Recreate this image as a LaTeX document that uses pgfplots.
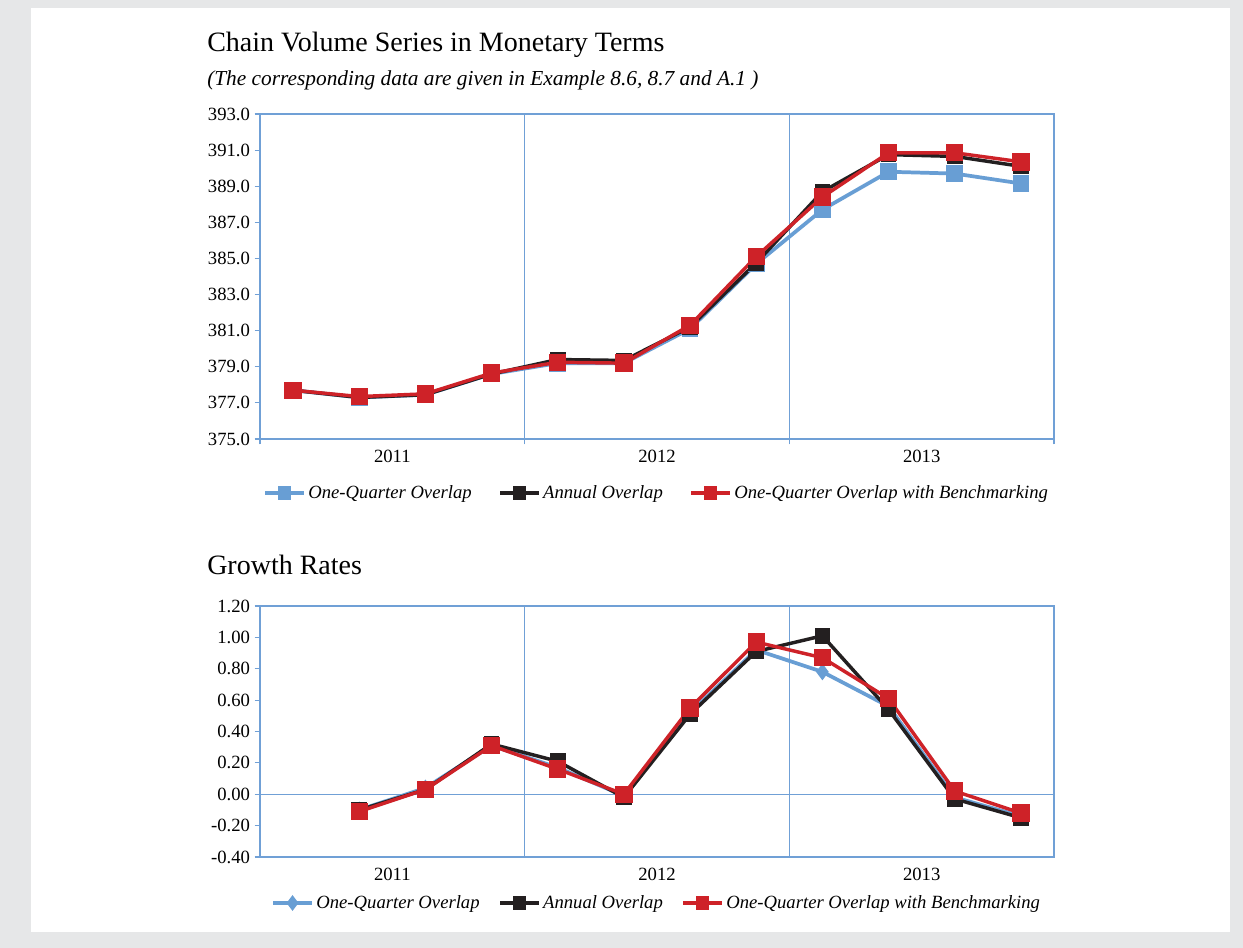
\documentclass[border=0pt]{standalone}
\usepackage{fontspec}
\setmainfont{Liberation Serif}
\usepackage{pgfplots}
\pgfplotsset{compat=1.18}
\definecolor{axblue}{RGB}{112,160,214}
\definecolor{serblue}{RGB}{104,158,212}
\definecolor{serred}{RGB}{206,34,40}
\definecolor{serblack}{RGB}{35,31,32}
\definecolor{bggray}{RGB}{230,231,232}

\pgfplotsset{
  mychart/.style={
    scale only axis,
    width=595.5pt,
    xmin=0, xmax=12,
    axis line style={axblue, line width=1pt},
    xtick={0,4,8,12}, xticklabels={},
    xmajorgrids,
    grid style={axblue, line width=0.8pt},
    extra x ticks={2,6,10},
    extra x tick labels={2011,2012,2013},
    extra x tick style={major tick length=0pt, grid=none, tick label style={yshift=-5pt}},
    tick style={axblue, line width=0.8pt},
    major tick length=4pt,
    tick align=outside,
    ytick pos=left, xtick pos=bottom,
    tick label style={font=\fontsize{14}{16}\selectfont, text=black},
    /pgf/number format/assume math mode=true,
    legend cell align=left,
    legend image code/.code={\draw[mark repeat=2,mark phase=2,mark size=3.6pt] plot coordinates {(0pt,0pt) (14.5pt,0pt) (29pt,0pt)};},
  },
  sblue/.style={color=serblue, line width=2.8pt, mark=square*, mark size=4.9pt, mark options={solid}},
  sblack/.style={color=serblack, line width=2.6pt, mark=square*, mark size=4.6pt},
  sred/.style={color=serred, line width=2.6pt, mark=square*, mark size=5.2pt},
}

\begin{document}
\begin{tikzpicture}
\fill[bggray] (0pt,0pt) rectangle (932.25pt,711pt);
\fill[white] (23.25pt,12pt) rectangle (922.5pt,705pt);

\node[anchor=base west, font=\fontsize{21}{24}\selectfont, inner sep=0pt] at (155.25pt,{(948-52)*0.75pt}) {Chain Volume Series in Monetary Terms};
\node[anchor=base west, font=\fontsize{16}{18}\selectfont\itshape, inner sep=0pt] at (155.25pt,{(948-86)*0.75pt}) {(The corresponding data are given in Example 8.6, 8.7 and A.1 )};
\node[anchor=base west, font=\fontsize{21}{24}\selectfont, inner sep=0pt] at (155.25pt,{(948-575)*0.75pt}) {Growth Rates};

% top chart
\begin{axis}[mychart,
  at={(195pt,{(948-439)*0.75pt})}, anchor=south west,
  height=243.75pt,
  ymin=375, ymax=393,
  ytick={375,377,...,393},
  yticklabel style={/pgf/number format/.cd, fixed, fixed zerofill, precision=1},
  legend style={draw=none, fill=none, font=\fontsize{14}{16}\selectfont\itshape,
    legend columns=3, at={(0.5,0)}, anchor=center, yshift=-40.5pt,
    /tikz/every even column/.append style={column sep=18pt}},
]
\addplot[sblue] coordinates {(0.5,377.7) (1.5,377.3) (2.5,377.45) (3.5,378.6) (4.5,379.2) (5.5,379.2) (6.5,381.1) (7.5,384.7) (8.5,387.7) (9.5,389.8) (10.5,389.7) (11.5,389.15)};
\addlegendentry{One-Quarter Overlap}
\addplot[sblack] coordinates {(0.5,377.7) (1.5,377.3) (2.5,377.45) (3.5,378.6) (4.5,379.4) (5.5,379.35) (6.5,381.2) (7.5,384.75) (8.5,388.7) (9.5,390.75) (10.5,390.65) (11.5,390.1)};
\addlegendentry{Annual Overlap}
\addplot[sred] coordinates {(0.5,377.7) (1.5,377.35) (2.5,377.5) (3.5,378.65) (4.5,379.25) (5.5,379.2) (6.5,381.3) (7.5,385.1) (8.5,388.4) (9.5,390.85) (10.5,390.85) (11.5,390.35)};
\addlegendentry{One-Quarter Overlap with Benchmarking}
\end{axis}

% bottom chart
\begin{axis}[mychart,
  at={(195pt,{(948-857)*0.75pt})}, anchor=south west,
  height=188.25pt,
  ymin=-0.4, ymax=1.2,
  ytick={-0.4,-0.2,0,0.2,0.4,0.6,0.8,1.0,1.2},
  xtick style={draw=none},
  yticklabel style={/pgf/number format/.cd, fixed, fixed zerofill, precision=2},
  extra y ticks={0}, extra y tick labels={},
  extra y tick style={grid=major, major tick length=0pt},
  legend style={draw=none, fill=none, font=\fontsize{14}{16}\selectfont\itshape,
    legend columns=3, at={(0.5,0)}, anchor=center, yshift=-34.5pt,
    /tikz/every even column/.append style={column sep=12pt}},
]
\addplot[sblue, mark=diamond*, mark size=4pt] coordinates {(1.5,-0.10) (2.5,0.04) (3.5,0.31) (4.5,0.17) (5.5,-0.01) (6.5,0.52) (7.5,0.92) (8.5,0.78) (9.5,0.56) (10.5,-0.02) (11.5,-0.14)};
\addlegendentry{One-Quarter Overlap}
\addplot[sblack] coordinates {(1.5,-0.10) (2.5,0.03) (3.5,0.32) (4.5,0.21) (5.5,-0.02) (6.5,0.51) (7.5,0.91) (8.5,1.01) (9.5,0.54) (10.5,-0.03) (11.5,-0.15)};
\addlegendentry{Annual Overlap}
\addplot[sred] coordinates {(1.5,-0.11) (2.5,0.03) (3.5,0.31) (4.5,0.16) (5.5,0.00) (6.5,0.55) (7.5,0.97) (8.5,0.87) (9.5,0.61) (10.5,0.02) (11.5,-0.12)};
\addlegendentry{One-Quarter Overlap with Benchmarking}
\end{axis}
\end{tikzpicture}
\end{document}
